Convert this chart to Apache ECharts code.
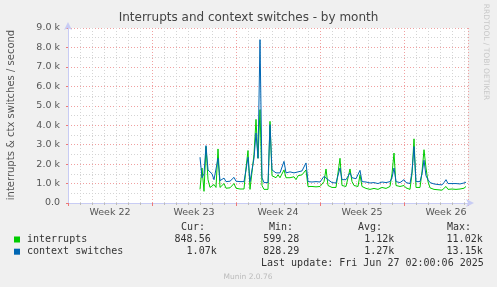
<!DOCTYPE html>
<html><head><meta charset="utf-8">
<script src="https://cdn.jsdelivr.net/npm/echarts@6/dist/echarts.min.js"></script>
<style>html,body{margin:0;padding:0;background:#f0f0f0;}#c{width:497px;height:287px;}</style>
</head><body><div id="c"></div>
<script>
// Data
const weekLabels = ['Week 22','Week 23','Week 24','Week 25','Week 26'];
const yTicks = [0,1000,2000,3000,4000,5000,6000,7000,8000,9000];
const sampleStartDay = 11.0;      // first sample, days after start of Week 22
const sampleStepDay = 1/6;        // 4-hour consolidation
const interrupts = [
  700,1800,600,2900,1200,800,900,950,800,2780,
  800,750,1000,760,720,780,720,1000,760,850,
  720,700,720,1800,2700,700,690,2500,4300,2300,
  4800,900,700,680,700,4200,1400,1350,1300,1450,
  1300,1350,1700,1300,1200,1300,1250,1350,1200,1400,
  1300,1450,1350,1700,850,820,850,800,830,820,
  850,830,1100,1750,900,850,800,900,800,850,
  2300,900,800,850,900,1750,1100,900,1000,850,
  1450,850,800,750,800,700,800,750,800,700,
  750,800,700,750,800,850,1500,2570,900,800,
  850,750,900,780,850,700,1500,3300,800,750,
  800,1600,2740,1800,1100,780,720,700,750,680,
  700,660,750,850,700,750,720,780,700,750,
  720,700,760,850
];
const contextSwitches = [
  2350,1300,1500,2950,1700,1600,1500,1200,1150,2300,
  1150,1100,1280,1100,1100,1120,1100,1320,1120,1200,
  1100,1100,1100,1700,2350,1100,1100,2300,3600,2300,
  8400,1300,1050,1150,1050,4030,1700,1650,1550,1600,
  1550,1650,2140,1550,1500,1600,1500,1550,1450,1600,
  1500,1650,1550,2060,1100,1050,1080,1050,1100,1050,
  1080,1100,1370,1400,1200,1100,1050,1100,1030,1100,
  1800,1200,1150,1200,1150,1550,1300,1200,1250,1150,
  1680,1100,1050,1080,1100,1030,1100,1050,1100,1000,
  1050,1080,1000,1050,1100,1100,1300,1800,1100,1100,
  1050,1020,1200,1050,1100,1000,1600,2900,1100,1080,
  1100,1500,2200,1400,1200,1050,1000,980,1020,950,
  1000,930,1050,1200,1000,1020,1000,1080,1000,1050,
  980,1000,1030,1070
];
const legendRows = [
  {name:'interrupts', cur:'848.56', min:'599.28', avg:'1.12k', max:'11.02k'},
  {name:'context switches', cur:'1.07k', min:'828.29', avg:'1.27k', max:'13.15k'}
];

const colors = ['#00cc00','#0066b3'];
const toPairs = arr => arr.map((v,i)=>[sampleStartDay + i*sampleStepDay, v]);
const spanDays = 400/12;
const axisCol = '#c8ccf4';
const sans = 'DejaVu Sans';
const mono = 'DejaVu Sans Mono';

const chart = echarts.init(document.getElementById('c'), null, {renderer:'canvas'});

const mono10 = {fontFamily:mono, fontSize:10, fill:'#333'};
const graphics = [
  {type:'text', left:'center', top:12, style:{text:'Interrupts and context switches - by month', font:'12px "DejaVu Sans"', fill:'#444'}},
  {type:'text', x:11, y:115, rotation:Math.PI/2, style:{text:'interrupts & ctx switches / second', fontFamily:sans, fontSize:10, fill:'#555', align:'center', verticalAlign:'middle'}},
  {type:'text', x:486, y:52, rotation:-Math.PI/2, style:{text:'RRDTOOL / TOBI OETIKER', fontFamily:sans, fontSize:7.5, fill:'#c8c8c8', align:'center', verticalAlign:'middle'}},
  {type:'text', x:181, y:227, style:Object.assign({text:'Cur:', verticalAlign:'middle'}, mono10)},
  {type:'text', x:269, y:227, style:Object.assign({text:'Min:', verticalAlign:'middle'}, mono10)},
  {type:'text', x:358, y:227, style:Object.assign({text:'Avg:', verticalAlign:'middle'}, mono10)},
  {type:'text', x:447, y:227, style:Object.assign({text:'Max:', verticalAlign:'middle'}, mono10)},
  {type:'text', x:261, y:263.5, style:Object.assign({text:'Last update: Fri Jun 27 02:00:06 2025', verticalAlign:'middle'}, mono10)},
  {type:'text', x:248, y:277, style:{text:'Munin 2.0.76', fontFamily:sans, fontSize:7.5, fill:'#bbb', align:'center', verticalAlign:'middle'}}
];
legendRows.forEach((r,i)=>{
  const y = 239.5 + i*12.2;
  graphics.push({type:'rect', shape:{x:14, y:y-3, width:6, height:6}, style:{fill:colors[i]}});
  graphics.push({type:'text', x:27, y:y, style:Object.assign({text:r.name, verticalAlign:'middle'}, mono10)});
  graphics.push({type:'text', x:216.7, y:y, style:Object.assign({text:r.cur + (/k$/.test(r.cur)?'':' '), align:'right', verticalAlign:'middle'}, mono10)});
  graphics.push({type:'text', x:305.3, y:y, style:Object.assign({text:r.min + (/k$/.test(r.min)?'':' '), align:'right', verticalAlign:'middle'}, mono10)});
  graphics.push({type:'text', x:394.3, y:y, style:Object.assign({text:r.avg + (/k$/.test(r.avg)?'':' '), align:'right', verticalAlign:'middle'}, mono10)});
  graphics.push({type:'text', x:482.7, y:y, style:Object.assign({text:r.max + (/k$/.test(r.max)?'':' '), align:'right', verticalAlign:'middle'}, mono10)});
});

chart.setOption({
  animation:false,
  backgroundColor:'#f0f0f0',
  grid:{left:68, top:28, width:400, height:175, show:true, backgroundColor:'#ffffff', borderWidth:0},
  xAxis:[{
    type:'value', min:0, max:spanDays, interval:7,
    axisLine:{show:true, lineStyle:{color:axisCol, width:1}, symbol:['none','arrow'], symbolSize:[6,8], symbolOffset:[0,6]},
    axisTick:{show:true, length:3, inside:false, lineStyle:{color:'#ee7777'}},
    minorTick:{show:true, splitNumber:7, length:2, lineStyle:{color:'#bbbbbb'}},
    axisLabel:{show:false},
    splitLine:{show:true, lineStyle:{color:'#f0a0a0', type:[1,2], width:1}},
    minorSplitLine:{show:true, lineStyle:{color:'#d4d4d4', type:[1,2], width:1}}
  },{
    type:'value', min:0, max:spanDays, interval:3.5, position:'bottom',
    axisLine:{show:false}, axisTick:{show:false}, splitLine:{show:false},
    axisLabel:{show:true, margin:5, fontFamily:sans, fontSize:9.5, color:'#555',
      formatter:function(v){const k=Math.round(v/3.5); if(Math.abs(v-k*3.5)>1e-6||k%2===0) return ''; const w=(k-1)/2; return weekLabels[w]||'';}}
  }],
  yAxis:{
    type:'value', min:yTicks[0], max:yTicks[yTicks.length-1], interval:1000,
    axisLine:{show:true, lineStyle:{color:axisCol, width:1}, symbol:['none','arrow'], symbolSize:[6,8], symbolOffset:[0,6]},
    axisTick:{show:true, length:2, lineStyle:{color:'#ee7777'}},
    minorTick:{show:false, splitNumber:2},
    axisLabel:{margin:8, fontFamily:sans, fontSize:9.5, color:'#555',
      formatter:function(v){return v===0?'0.0':(v/1000).toFixed(1)+' k';}},
    splitLine:{show:true, lineStyle:{color:'#f0a0a0', type:[1,2], width:1}},
    minorSplitLine:{show:true, lineStyle:{color:'#d4d4d4', type:[1,2], width:1}}
  },
  series:[
    {name:'interrupts', type:'line', xAxisIndex:0, data:toPairs(interrupts), showSymbol:false, symbol:'none', lineStyle:{color:colors[0], width:1}, itemStyle:{color:colors[0]}},
    {name:'context switches', type:'line', xAxisIndex:0, data:toPairs(contextSwitches), showSymbol:false, symbol:'none', lineStyle:{color:colors[1], width:1}, itemStyle:{color:colors[1]}}
  ],
  graphic:graphics
});
</script></body></html>
